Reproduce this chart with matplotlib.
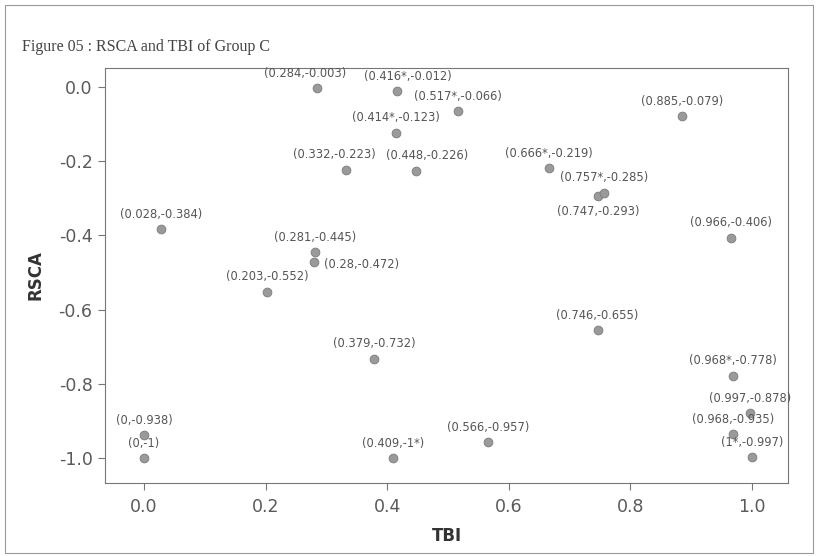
import matplotlib.pyplot as plt
from matplotlib.patches import Rectangle

# TBI (x) and RSCA (y) values with their printed labels
tbi = [0.284, 0.416, 0.517, 0.414, 0.332, 0.448, 0.666, 0.747, 0.757, 0.885,
       0.028, 0.281, 0.28, 0.203, 0.966, 0.746, 0.379, 0.968, 0.997, 0.968,
       1.0, 0.0, 0.0, 0.409, 0.566]
rsca = [-0.003, -0.012, -0.066, -0.123, -0.223, -0.226, -0.219, -0.293, -0.285, -0.079,
        -0.384, -0.445, -0.472, -0.552, -0.406, -0.655, -0.732, -0.778, -0.878, -0.935,
        -0.997, -0.938, -1.0, -1.0, -0.957]
labels = ["(0.284,-0.003)", "(0.416*,-0.012)", "(0.517*,-0.066)", "(0.414*,-0.123)",
          "(0.332,-0.223)", "(0.448,-0.226)", "(0.666*,-0.219)", "(0.747,-0.293)",
          "(0.757*,-0.285)", "(0.885,-0.079)", "(0.028,-0.384)", "(0.281,-0.445)",
          "(0.28,-0.472)", "(0.203,-0.552)", "(0.966,-0.406)", "(0.746,-0.655)",
          "(0.379,-0.732)", "(0.968*,-0.778)", "(0.997,-0.878)", "(0.968,-0.935)",
          "(1*,-0.997)", "(0,-0.938)", "(0,-1)", "(0.409,-1*)", "(0.566,-0.957)"]

# nudges for labels that would sit on top of a neighbour: (dx, dy, ha, va)
nudge = {
    "(0.284,-0.003)": (-8, 6, "center", "bottom"),
    "(0.416*,-0.012)": (8, 6, "center", "bottom"),
    "(0.332,-0.223)": (-8, 6, "center", "bottom"),
    "(0.448,-0.226)": (8, 6, "center", "bottom"),
    "(0.747,-0.293)": (0, -7, "center", "top"),
    "(0.28,-0.472)": (7, -2, "left", "center"),
}

xticks = [0.0, 0.2, 0.4, 0.6, 0.8, 1.0]
yticks = [0.0, -0.2, -0.4, -0.6, -0.8, -1.0]

fig = plt.figure(figsize=(8.18, 5.56), dpi=100)
ax = fig.add_axes([105 / 818, 1 - 483 / 556, 683 / 818, 415 / 556])

# outer frame round the whole picture
fig.patches.append(Rectangle((5 / 818, 3 / 556), 808 / 818, 548 / 556,
                             transform=fig.transFigure, fill=False,
                             edgecolor="#999999", linewidth=0.8))

fig.text(22 / 818, 1 - 47 / 556, "Figure 05 : RSCA and TBI of Group C",
         family="Liberation Serif", fontsize=11.5, color="#444444", va="center")

ax.scatter(tbi, rsca, s=40, color="#9a9a9a", edgecolors="#7a7a7a",
           linewidths=0.6, zorder=3)
for x, y, lab in zip(tbi, rsca, labels):
    dx, dy, ha, va = nudge.get(lab, (0, 6, "center", "bottom"))
    ax.annotate(lab, (x, y), xytext=(dx, dy), textcoords="offset points",
                ha=ha, va=va, fontsize=8.3, color="#555555",
                family="DejaVu Sans")

ax.set_xlim(-0.064, 1.059)
ax.set_ylim(-1.067, 0.051)
ax.set_xticks(xticks)
ax.set_yticks(yticks)
ax.set_xticklabels([f"{v:.1f}" for v in xticks])
ax.set_yticklabels([f"{v:.1f}" for v in yticks])
ax.tick_params(axis="both", direction="out", length=5, width=0.8,
               color="#777777", labelcolor="#5a5a5a", labelsize=12.5, pad=4)
ax.tick_params(axis="x", pad=6)
for side in ax.spines.values():
    side.set_color("#777777")
    side.set_linewidth(0.8)

ax.set_xlabel("TBI", fontsize=12, fontweight="bold", color="#333333", labelpad=8)
ax.set_ylabel("RSCA", fontsize=12, fontweight="bold", color="#333333", labelpad=10)

fig.savefig("out.png", dpi=100)
